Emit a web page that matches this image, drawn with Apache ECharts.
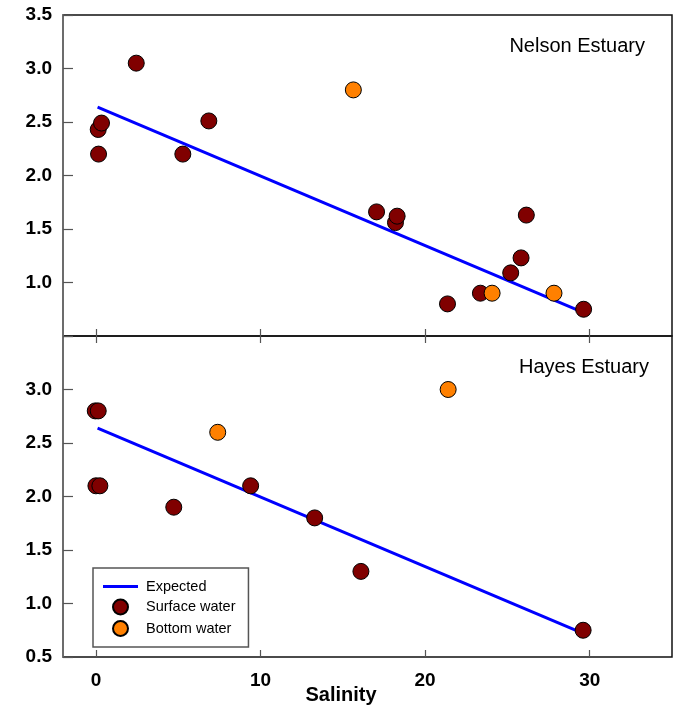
<!DOCTYPE html>
<html>
<head>
<meta charset="utf-8">
<script src="https://cdn.jsdelivr.net/npm/echarts@6/dist/echarts.min.js"></script>
<style>html,body{margin:0;padding:0;background:#fff;}#c{width:673px;height:705px;}</style>
</head>
<body>
<div id="c"></div>
<script>
// Nelson Estuary
var nelsonSurface = [[2.45,3.05],[0.14,2.43],[0.34,2.49],[0.16,2.20],[5.28,2.20],[6.86,2.51],[17.05,1.66],[18.2,1.56],[18.3,1.62],[26.15,1.63],[25.83,1.23],[25.2,1.09],[23.36,0.90],[21.36,0.80],[29.63,0.75]];
var nelsonBottom = [[15.64,2.80],[24.07,0.90],[27.83,0.90]];
// Hayes Estuary
var hayesSurface = [[-0.04,2.80],[0.14,2.80],[0.0,2.10],[0.24,2.10],[4.73,1.90],[9.4,2.10],[13.29,1.80],[16.1,1.30],[29.6,0.75]];
var hayesBottom = [[7.4,2.60],[21.4,3.00]];
// Expected line
var expected = [[0.1,2.64],[29.6,0.72]];
var xTicks = [0,10,20,30];
var panelNames = ['Nelson Estuary','Hayes Estuary'];

var FONT = 'Liberation Sans, Arial, sans-serif';
var chart = echarts.init(document.getElementById('c'), null, {renderer:'canvas'});

function xAxisDef(gridIndex, position, showLabel){
  return {
    type:'value', gridIndex:gridIndex, position:position, min:-2, max:35,
    axisLine:{show:false, onZero:false},
    axisTick:{show:true, inside:true, length:7, customValues:xTicks, lineStyle:{color:'#555', width:1.2}},
    axisLabel:{show:showLabel, customValues:xTicks, margin:14, fontSize:19, fontWeight:'bold', color:'#000', fontFamily:FONT},
    splitLine:{show:false}
  };
}
function yAxisDef(gridIndex, hideVal){
  return {
    type:'value', gridIndex:gridIndex, min:0.5, max:3.5, interval:0.5,
    axisLine:{show:true, onZero:false, lineStyle:{color:'#777', width:1.5}},
    axisTick:{show:true, inside:true, length:10, lineStyle:{color:'#555', width:1.2}},
    axisLabel:{margin:11, fontSize:19, fontWeight:'bold', color:'#000', fontFamily:FONT,
      formatter:function(v){ return Math.abs(v-hideVal)<1e-6 ? '' : v.toFixed(1); }},
    splitLine:{show:false}
  };
}
var dotStyle = function(c){ return {color:c, borderColor:'#000', borderWidth:1, opacity:1}; };

chart.setOption({
  animation:false,
  backgroundColor:'#fff',
  title:[
    {text:panelNames[0], right:23, top:31, textStyle:{fontSize:20, fontWeight:'normal', color:'#000', fontFamily:FONT}},
    {text:panelNames[1], right:19, top:352, textStyle:{fontSize:20, fontWeight:'normal', color:'#000', fontFamily:FONT}},
    {text:'Salinity', left:341, textAlign:'center', top:685, padding:0, textStyle:{fontSize:20, fontWeight:'bold', color:'#000', fontFamily:FONT}}
  ],
  grid:[
    {left:63, top:15, width:609, height:321, show:true, borderColor:'#111', borderWidth:1.5, containLabel:false},
    {left:63, top:336, width:609, height:321, show:true, borderColor:'#111', borderWidth:1.5, containLabel:false}
  ],
  xAxis:[ xAxisDef(0,'bottom',false), xAxisDef(1,'bottom',true), xAxisDef(1,'top',false) ],
  yAxis:[ yAxisDef(0,0.5), yAxisDef(1,3.5) ],
  legend:{
    orient:'vertical', left:93, top:568, padding:[11,13,10,10], itemGap:4.5,
    itemWidth:35, itemHeight:15,
    borderColor:'#555', borderWidth:1.5, backgroundColor:'#fff',
    textStyle:{fontSize:14.5, color:'#000', fontFamily:FONT, padding:[0,0,0,3]},
    data:[
      {name:'Expected', icon:'path://M0,0L35,0L35,3L0,3Z', itemStyle:{color:'#0000ff', borderWidth:0}},
      {name:'Surface water', icon:'circle', itemStyle:{opacity:1}},
      {name:'Bottom water', icon:'circle', itemStyle:{opacity:1}}
    ]
  },
  series:[
    {name:'Expected', type:'line', xAxisIndex:0, yAxisIndex:0, data:expected, symbol:'none', showSymbol:false, lineStyle:{color:'#0000ff', width:3}, itemStyle:{color:'#0000ff'}, z:2},
    {name:'Surface water', type:'scatter', xAxisIndex:0, yAxisIndex:0, data:nelsonSurface, symbolSize:16, itemStyle:dotStyle('#800000'), z:3},
    {name:'Bottom water', type:'scatter', xAxisIndex:0, yAxisIndex:0, data:nelsonBottom, symbolSize:16, itemStyle:dotStyle('#ff8000'), z:3},
    {name:'Expected', type:'line', xAxisIndex:1, yAxisIndex:1, data:expected, symbol:'none', showSymbol:false, lineStyle:{color:'#0000ff', width:3}, itemStyle:{color:'#0000ff'}, z:2},
    {name:'Surface water', type:'scatter', xAxisIndex:1, yAxisIndex:1, data:hayesSurface, symbolSize:16, itemStyle:dotStyle('#800000'), z:3},
    {name:'Bottom water', type:'scatter', xAxisIndex:1, yAxisIndex:1, data:hayesBottom, symbolSize:16, itemStyle:dotStyle('#ff8000'), z:3}
  ]
});
</script>
</body>
</html>
